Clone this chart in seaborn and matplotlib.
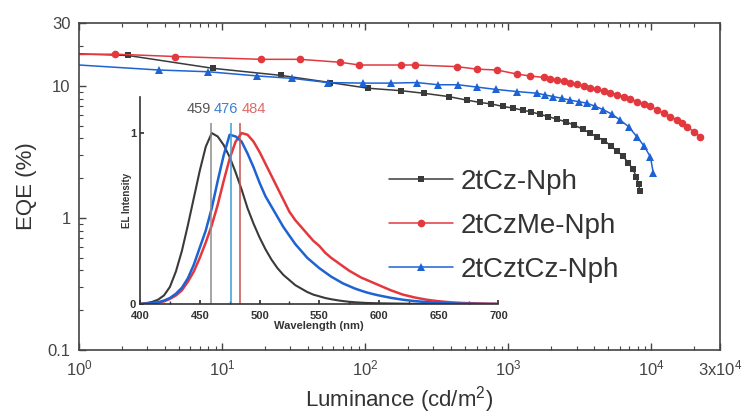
import numpy as np
import pandas as pd
import matplotlib
matplotlib.use("Agg")
import matplotlib.pyplot as plt
import seaborn as sns
from matplotlib.ticker import FixedLocator, LogLocator, NullFormatter, MultipleLocator

# --- EQE vs luminance ---
lum_black = [1.0, 2.2, 8.6, 26, 57, 105, 178, 256, 383, 515, 631, 759, 912, 1072, 1259,
             1445, 1660, 1905, 2188, 2512, 2884, 3311, 3715, 4169, 4677, 5248, 5754,
             6310, 6918, 7413, 7852, 8128, 8318]
eqe_black = [17.5, 17.0, 13.6, 12.0, 10.6, 9.6, 9.2, 8.8, 8.3, 7.8, 7.5, 7.3, 7.0, 6.8, 6.55,
             6.35, 6.1, 5.85, 5.6, 5.35, 5.05, 4.7, 4.4, 4.1, 3.85, 3.5, 3.2,
             2.95, 2.6, 2.35, 2.05, 1.8, 1.6]

lum_red = [1.0, 1.78, 4.7, 18.7, 35, 67, 91, 178, 224, 436, 603, 832, 1150, 1410, 1766,
           1960, 2190, 2440, 2716, 3020, 3365, 3750, 4170, 4640, 5160, 5740, 6400, 7130,
           7940, 8840, 9840, 10950, 12190, 13590, 15140, 16400, 17780, 19800, 22000]
eqe_red = [17.3, 17.4, 16.7, 15.9, 15.9, 15.1, 14.4, 14.4, 14.4, 14.0, 13.4, 13.2, 12.3, 11.9, 11.6,
           11.35, 11.1, 10.8, 10.5, 10.25, 10.0, 9.7, 9.4, 9.15, 8.9, 8.6, 8.3, 7.95,
           7.6, 7.3, 7.0, 6.6, 6.2, 5.85, 5.5, 5.2, 4.9, 4.5, 4.1]

lum_blue = [1.0, 3.6, 8.0, 17.6, 31, 55, 97, 152, 230, 324, 446, 603, 824, 1150, 1585,
            1800, 2065, 2370, 2700, 3100, 3540, 4050, 4620, 5300, 6060, 6950, 7940,
            8900, 9840, 10300]
eqe_blue = [14.4, 13.2, 12.8, 11.9, 11.4, 10.6, 10.5, 10.5, 10.6, 10.2, 10.2, 9.8, 9.4, 9.06, 8.8,
            8.55, 8.3, 8.05, 7.8, 7.6, 7.4, 7.0, 6.6, 6.1, 5.5, 4.9, 4.1,
            3.5, 2.9, 2.2]

series_names = ["2tCz-Nph", "2tCzMe-Nph", "2tCztCz-Nph"]

x_ticks = [1, 10, 100, 1000, 10000, 30000]
x_tick_labels = ["$10^0$", "$10^1$", "$10^2$", "$10^3$", "$10^4$", "3x$10^4$"]
y_ticks = [0.1, 1, 10, 30]
y_tick_labels = ["0.1", "1", "10", "30"]

# --- EL spectra (inset) ---
wavelength = [400, 405, 410, 415, 420, 425, 430, 435, 440, 445, 450, 455, 460, 465, 470,
              475, 480, 485, 490, 495, 500, 505, 510, 515, 520, 525, 530, 535, 540, 545,
              550, 555, 560, 565, 570, 575, 580, 585, 590, 595, 600,
              610, 620, 630, 640, 650, 660, 670, 680, 690, 700]
el_black = [0.0, 0.005, 0.012, 0.025, 0.05, 0.10, 0.19, 0.31, 0.46, 0.62, 0.78, 0.92, 1.0, 0.98, 0.93,
            0.86, 0.77, 0.67, 0.56, 0.47, 0.39, 0.32, 0.26, 0.21, 0.17, 0.14, 0.11, 0.09, 0.07, 0.055,
            0.045, 0.035, 0.028, 0.022, 0.017, 0.013, 0.010, 0.008, 0.006, 0.005, 0.004,
            0.003, 0.002, 0.001, 0.001, 0.0, 0.0, 0.0, 0.0, 0.0, 0.0]
el_red = [0.0, 0.002, 0.004, 0.008, 0.015, 0.03, 0.05, 0.08, 0.13, 0.19, 0.27, 0.36, 0.46, 0.58, 0.72,
          0.85, 0.95, 1.0, 0.99, 0.95, 0.89, 0.82, 0.75, 0.68, 0.61, 0.54, 0.49, 0.45, 0.41, 0.37,
          0.34, 0.30, 0.27, 0.245, 0.22, 0.195, 0.175, 0.155, 0.14, 0.125, 0.11,
          0.08, 0.055, 0.038, 0.025, 0.016, 0.010, 0.006, 0.004, 0.002, 0.001]
el_blue = [0.0, 0.002, 0.005, 0.01, 0.02, 0.035, 0.06, 0.095, 0.15, 0.23, 0.33, 0.43, 0.56, 0.72, 0.87,
           0.99, 0.98, 0.95, 0.88, 0.80, 0.71, 0.63, 0.57, 0.51, 0.45, 0.40, 0.35, 0.31, 0.27, 0.24,
           0.21, 0.185, 0.16, 0.14, 0.12, 0.105, 0.09, 0.078, 0.067, 0.058, 0.05,
           0.036, 0.025, 0.017, 0.011, 0.007, 0.004, 0.002, 0.001, 0.0, 0.0]
peak_nm = [459, 476, 484]
peak_labels = ["459", "476", "484"]

# colours
c_black = "#3a3a3a"
c_red = "#e3383d"
c_blue = "#1d63d3"
peak_line_colors = ["#8c8c8c", "#3d9bd8", "#c4524e"]
peak_text_colors = ["#555555", "#3d7fd0", "#e06a6a"]


def main():
    sns.set_theme(style="ticks")
    plt.rcParams["font.family"] = ["Liberation Sans", "DejaVu Sans"]
    plt.rcParams["mathtext.default"] = "regular"

    fig = plt.figure(figsize=(7.45, 4.17), dpi=100)
    ax = fig.add_axes([0.106, 0.161, 0.860, 0.784])

    # --- main EQE curves ---
    df_black = pd.DataFrame({"lum": lum_black, "eqe": eqe_black})
    df_red = pd.DataFrame({"lum": lum_red, "eqe": eqe_red})
    df_blue = pd.DataFrame({"lum": lum_blue, "eqe": eqe_blue})

    sns.lineplot(data=df_black, x="lum", y="eqe", ax=ax, color=c_black, marker="s",
                 markersize=4.5, markeredgewidth=0, linewidth=1.1, label=series_names[0],
                 markevery=slice(1, None))
    sns.lineplot(data=df_red, x="lum", y="eqe", ax=ax, color=c_red, marker="o",
                 markersize=5.5, markeredgewidth=0, linewidth=1.1, label=series_names[1],
                 markevery=slice(1, None))
    sns.lineplot(data=df_blue, x="lum", y="eqe", ax=ax, color=c_blue, marker="^",
                 markersize=5.5, markeredgewidth=0, linewidth=1.1, label=series_names[2],
                 markevery=slice(1, None))

    ax.set_xscale("log")
    ax.set_yscale("log")
    ax.set_xlim(1, 30000)
    ax.set_ylim(0.1, 30)

    ax.xaxis.set_major_locator(FixedLocator(x_ticks))
    ax.set_xticklabels(x_tick_labels)
    ax.xaxis.set_minor_locator(LogLocator(base=10, subs=np.arange(2, 10), numticks=20))
    ax.xaxis.set_minor_formatter(NullFormatter())
    ax.yaxis.set_major_locator(FixedLocator(y_ticks))
    ax.set_yticklabels(y_tick_labels)
    ax.yaxis.set_minor_locator(LogLocator(base=10, subs=np.arange(2, 10), numticks=20))
    ax.yaxis.set_minor_formatter(NullFormatter())

    ax.tick_params(which="both", direction="in", top=True, right=False,
                   color="#444444", labelcolor="#444444", labelsize=12, pad=6)
    ax.tick_params(which="major", length=5, width=1)
    ax.tick_params(which="minor", length=3, width=0.8)
    for s in ax.spines.values():
        s.set_color("#444444")
        s.set_linewidth(1.2)

    ax.set_xlabel("Luminance (cd/m$^2$)", fontsize=16, color="#333333", labelpad=4)
    ax.set_ylabel("EQE (%)", fontsize=16, color="#333333", labelpad=8)

    ax.legend(loc="center left", bbox_to_anchor=(0.466, 0.38), borderaxespad=0,
              frameon=False, fontsize=20, handlelength=2.3, handletextpad=0.3,
              labelspacing=0.65, labelcolor="#333333")

    # --- inset: EL spectra ---
    axin = fig.add_axes([0.188, 0.271, 0.481, 0.496])
    axin.set_facecolor("none")
    df_el = pd.DataFrame({"wl": wavelength, "black": el_black, "red": el_red, "blue": el_blue})
    sns.lineplot(data=df_el, x="wl", y="black", ax=axin, color=c_black, linewidth=1.5)
    sns.lineplot(data=df_el, x="wl", y="red", ax=axin, color=c_red, linewidth=1.8)
    sns.lineplot(data=df_el, x="wl", y="blue", ax=axin, color=c_blue, linewidth=1.8)

    axin.vlines(peak_nm, 0, 1.06, colors=peak_line_colors, linewidth=1.1)
    axin.text(peak_nm[0], 1.1, peak_labels[0], ha="right", va="bottom",
              fontsize=10.5, color=peak_text_colors[0])
    axin.text(peak_nm[1] - 4, 1.1, peak_labels[1], ha="center", va="bottom",
              fontsize=10.5, color=peak_text_colors[1])
    axin.text(peak_nm[2] + 1, 1.1, peak_labels[2], ha="left", va="bottom",
              fontsize=10.5, color=peak_text_colors[2])

    axin.set_xlim(400, 700)
    axin.set_ylim(0, 1.21)
    axin.xaxis.set_major_locator(MultipleLocator(50))
    axin.xaxis.set_minor_locator(MultipleLocator(25))
    axin.yaxis.set_major_locator(FixedLocator([0, 1]))
    axin.set_yticklabels(["0", "1"])
    axin.spines["top"].set_visible(False)
    axin.spines["right"].set_visible(False)
    for s in ["left", "bottom"]:
        axin.spines[s].set_color("#333333")
        axin.spines[s].set_linewidth(1.2)
    axin.tick_params(which="both", direction="in", color="#333333", labelcolor="#333333",
                     labelsize=8)
    axin.tick_params(axis="x", pad=5)
    axin.tick_params(axis="y", pad=3)
    axin.tick_params(which="major", length=3)
    axin.tick_params(which="minor", length=2)
    for lab in axin.get_xticklabels() + axin.get_yticklabels():
        lab.set_fontweight("bold")
    axin.set_xlabel("Wavelength (nm)", fontsize=8, fontweight="bold", color="#333333", labelpad=0)
    axin.set_ylabel("EL Intensity", fontsize=7, fontweight="bold", color="#333333", labelpad=-2)

    fig.savefig("out.png", dpi=100, facecolor="white")
    plt.close(fig)


if __name__ == "__main__":
    main()
